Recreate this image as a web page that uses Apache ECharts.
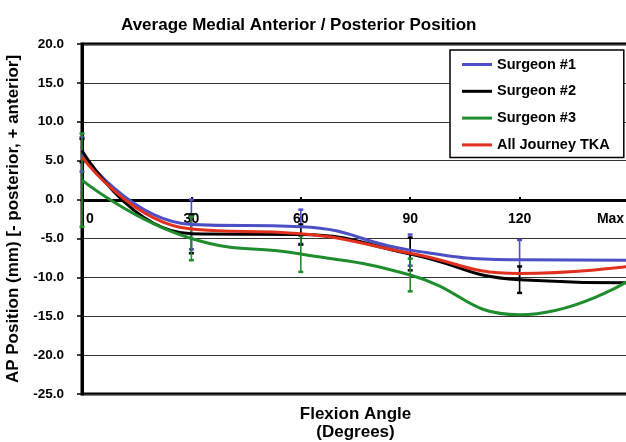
<!DOCTYPE html>
<html>
<head>
<meta charset="utf-8">
<script src="https://cdn.jsdelivr.net/npm/echarts@6/dist/echarts.min.js"></script>
<style>
html,body{margin:0;padding:0;background:#fff;}
#chart{width:626px;height:442px;}
</style>
</head>
<body>
<div id="chart"></div>
<script>
var categories = ['0', '30', '60', '90', '120', 'Max'];
var surgeon1 = [5.8, -3.2, -3.5, -6.5, -7.75, -7.8];
var surgeon2 = [6.3, -4.4, -4.5, -7.0, -10.3, -10.7];
var surgeon3 = [2.5, -5.0, -7.0, -9.7, -14.8, -10.4];
var allJourney = [5.5, -3.8, -4.4, -6.9, -9.5, -8.6];
// standard deviation (error bar half-length); null = not shown
var sd1 = [2.2, 3.2, 2.2, 2.0, 2.55, null];
var sd2 = [1.5, 2.5, 1.3, 2.1, 1.7, null];
var sd3 = [6.0, 2.8, 2.3, 2.1, null, null];
var yTicks = [-25, -20, -15, -10, -5, 0, 5, 10, 15, 20];

var FONT = '"Liberation Sans", Arial, sans-serif';
var C1 = '#4d4fc4', C2 = '#000000', C3 = '#1f8c2e', C4 = '#e2301e';

function errData(mean, sd) {
  var out = [];
  for (var i = 0; i < mean.length; i++) {
    if (sd[i] != null) out.push([i, mean[i], sd[i]]);
  }
  return out;
}
function errSeries(name, mean, sd, color) {
  return {
    type: 'custom',
    name: name + ' err',
    z: 1,
    silent: true,
    data: errData(mean, sd),
    encode: {x: 0, y: 1},
    renderItem: function (params, api) {
      var x = api.value(0), m = api.value(1), s = api.value(2);
      var top = api.coord([x, m + s]);
      var bot = api.coord([x, m - s]);
      var style = {stroke: color, lineWidth: 1.6};
      return {
        type: 'group',
        children: [
          {type: 'line', shape: {x1: top[0], y1: top[1], x2: bot[0], y2: bot[1]}, style: style},
          {type: 'line', shape: {x1: top[0] - 2.5, y1: top[1], x2: top[0] + 2.5, y2: top[1]}, style: {stroke: color, lineWidth: 2.5}},
          {type: 'line', shape: {x1: bot[0] - 2.5, y1: bot[1], x2: bot[0] + 2.5, y2: bot[1]}, style: {stroke: color, lineWidth: 2.5}}
        ]
      };
    }
  };
}
function lineSeries(name, data, color) {
  return {
    type: 'line',
    name: name,
    data: data,
    smooth: 0.5,
    symbol: 'none',
    z: 3,
    lineStyle: {color: color, width: 3},
    itemStyle: {color: color}
  };
}

var chart = echarts.init(document.getElementById('chart'), null, {renderer: 'canvas'});
chart.setOption({
  animation: false,
  backgroundColor: '#ffffff',
  textStyle: {fontFamily: FONT},
  title: {
    text: 'Average Medial Anterior / Posterior Position',
    left: 116,
    top: 12,
    textStyle: {fontFamily: FONT, fontSize: 17, fontWeight: 'bold', color: '#000'}
  },
  grid: {
    left: 82, right: -3, top: 44, bottom: 48,
    containLabel: false,
    outerBoundsMode: 'none',
    show: true, borderColor: '#000', borderWidth: 3, backgroundColor: 'transparent'
  },
  legend: {
    orient: 'vertical',
    left: 450, top: 50,
    data: ['Surgeon #1', 'Surgeon #2', 'Surgeon #3', 'All Journey TKA'],
    backgroundColor: '#fff',
    borderColor: '#000',
    borderWidth: 1.5,
    padding: [7, 14, 5, 12],
    itemWidth: 30,
    itemHeight: 3,
    itemGap: 11.8,
    icon: 'rect',
    textStyle: {fontFamily: FONT, fontSize: 14.5, fontWeight: 'bold', color: '#000'}
  },
  xAxis: {
    type: 'category',
    data: categories,
    boundaryGap: false,
    position: 'bottom',
    offset: -194,
    name: 'Flexion Angle\n(Degrees)',
    nameLocation: 'middle',
    nameGap: 205,
    nameTextStyle: {fontFamily: FONT, fontSize: 17, fontWeight: 'bold', color: '#000', lineHeight: 18},
    axisLine: {onZero: false, lineStyle: {color: '#000', width: 3}},
    axisTick: {show: true, inside: true, length: 3, lineStyle: {color: '#000', width: 2}},
    splitLine: {show: false},
    axisLabel: {
      margin: 12,
      fontFamily: FONT, fontSize: 14, fontWeight: 'bold', color: '#000',
      formatter: function (v) {
        if (v === categories[0]) return '{l|' + v + '}';
        if (v === categories[categories.length - 1]) return '{r|' + v + '}';
        return v;
      },
      rich: {
        l: {fontFamily: FONT, fontSize: 14, fontWeight: 'bold', color: '#000', padding: [0, 0, 0, 16]},
        r: {fontFamily: FONT, fontSize: 14, fontWeight: 'bold', color: '#000', padding: [0, 37, 0, 0]}
      }
    }
  },
  yAxis: {
    type: 'value',
    min: yTicks[0], max: yTicks[yTicks.length - 1], interval: 5,
    name: 'AP Position (mm) [- posterior, + anterior]',
    nameLocation: 'middle',
    nameGap: 60,
    nameTextStyle: {fontFamily: FONT, fontSize: 17, fontWeight: 'bold', color: '#000'},
    axisLine: {show: true, lineStyle: {color: '#000', width: 3}},
    axisTick: {show: true, length: 5, lineStyle: {color: '#000', width: 1.5}},
    splitLine: {show: true, lineStyle: {color: '#333', width: 1.2}},
    axisLabel: {
      margin: 18,
      fontFamily: FONT, fontSize: 13.5, fontWeight: 'bold', color: '#000',
      formatter: function (v) { return v.toFixed(1); }
    }
  },
  series: [
    errSeries('Surgeon #1', surgeon1, sd1, C1),
    errSeries('Surgeon #2', surgeon2, sd2, C2),
    errSeries('Surgeon #3', surgeon3, sd3, C3),
    lineSeries('Surgeon #1', surgeon1, C1),
    lineSeries('Surgeon #2', surgeon2, C2),
    lineSeries('Surgeon #3', surgeon3, C3),
    lineSeries('All Journey TKA', allJourney, C4)
  ]
});
</script>
</body>
</html>
